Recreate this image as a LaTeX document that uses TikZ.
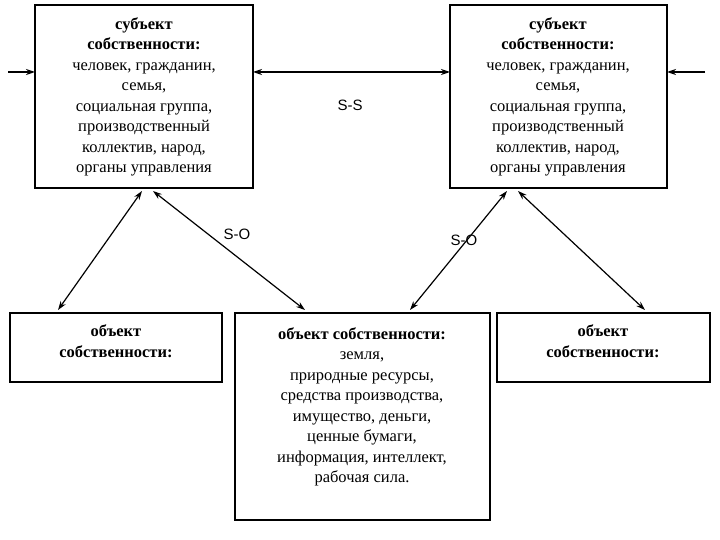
\documentclass[tikz,border=0pt]{standalone}
\usepackage{fontspec}
\setmainfont{Liberation Serif}
\newfontfamily\lsans{Liberation Sans}
\usetikzlibrary{arrows.meta}
\begin{document}
\begin{tikzpicture}[x=1pt,y=-1pt,
  box/.style={draw,line width=1.2pt,inner sep=0pt},
  txt/.style={align=center,font=\fontsize{16.5}{20.5}\selectfont},
  tip/.style={>={Stealth[length=9pt,width=6pt]}},
  arr/.style={line width=1.2pt,<->,tip},
  lab/.style={font=\lsans\fontsize{15}{17}\selectfont}]
\useasboundingbox (0,0) rectangle (720,540);
\draw[box] (35,5) rectangle (253,188);
\draw[box] (450,5) rectangle (667,188);
\draw[box] (10,313) rectangle (222,382);
\draw[box] (235,313) rectangle (490,520);
\draw[box] (497,313) rectangle (710,382);
\node[txt] (tl) at (144,97) {\textbf{субъект}\\\textbf{собственности:}\\человек, гражданин,\\семья,\\социальная группа,\\производственный\\коллектив, народ,\\органы управления};
\node[txt] (tr) at (558,97) {\textbf{субъект}\\\textbf{собственности:}\\человек, гражданин,\\семья,\\социальная группа,\\производственный\\коллектив, народ,\\органы управления};
\node[txt] (bl) at (116,341) {\textbf{объект}\\\textbf{собственности:}};
\node[txt] (br) at (603,341) {\textbf{объект}\\\textbf{собственности:}};
\node[txt] (bm) at (362,407) {\textbf{объект собственности:}\\земля,\\природные ресурсы,\\средства производства,\\имущество, деньги,\\ценные бумаги,\\информация, интеллект,\\рабочая сила.};
\coordinate (a1) at (8,72); \coordinate (a2) at (35,72);
\coordinate (b1) at (705,72); \coordinate (b2) at (667,72);
\draw[line width=1.2pt,->,tip] (a1) -- (a2);
\draw[line width=1.2pt,->,tip] (b1) -- (b2);
\coordinate (s1) at (253,72); \coordinate (s2) at (450,72);
\draw[arr] (s1) -- (s2);
\node[lab] (ss) at (350,105) {S-S};
\coordinate (d1) at (142,191); \coordinate (d2) at (58,310);
\coordinate (d3) at (153,191); \coordinate (d4) at (305,310);
\coordinate (d5) at (507,191); \coordinate (d6) at (410,310);
\coordinate (d7) at (518,191); \coordinate (d8) at (645,310);
\draw[arr] (d1) -- (d2);
\draw[arr] (d3) -- (d4);
\draw[arr] (d5) -- (d6);
\draw[arr] (d7) -- (d8);
\node[lab] (so1) at (237,234) {S-O};
\node[lab] (so2) at (464,240) {S-O};
\end{tikzpicture}
\end{document}
